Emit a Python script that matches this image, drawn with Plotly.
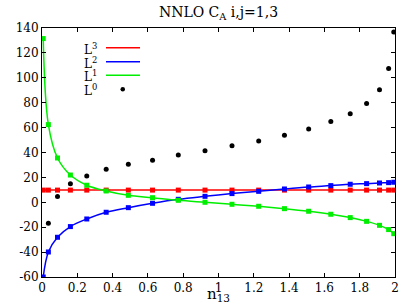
import plotly.graph_objects as go

# x nodes
x_nodes = [0.0069, 0.0361, 0.0878, 0.1609, 0.2537, 0.3636, 0.4892, 0.6263, 0.7723, 0.9235,
           1.0765, 1.2277, 1.3737, 1.5108, 1.6364, 1.7463, 1.8391, 1.9122, 1.9639, 1.9931]

L3 = [9.8] * 20
L2 = [-60.0, -39.9, -28.1, -19.5, -13.4, -8.0, -4.3, -0.8, 2.4, 4.8,
      7.0, 8.8, 10.7, 12.3, 13.4, 14.5, 15.0, 15.5, 15.8, 16.1]
L1 = [131.5, 62.4, 35.6, 21.9, 13.7, 9.1, 5.6, 3.7, 1.6, 0.0,
      -1.6, -3.2, -5.1, -7.2, -9.6, -12.3, -15.3, -18.5, -21.9, -25.2]
x_L0 = x_nodes[1:]
L0 = [-16.9, 4.6, 15.0, 21.1, 26.5, 30.5, 33.7, 38.0, 41.5, 45.5,
      49.3, 53.8, 58.9, 64.8, 71.2, 79.3, 90.5, 107.4, 136.8]

x_ticks = [0, 0.2, 0.4, 0.6, 0.8, 1, 1.2, 1.4, 1.6, 1.8, 2]
x_ticktext = ["0", "0.2", "0.4", "0.6", "0.8", "1", "1.2", "1.4", "1.6", "1.8", "2"]
y_ticks = [-60, -40, -20, 0, 20, 40, 60, 80, 100, 120, 140]
y_ticktext = ["-60", "-40", "-20", "0", "20", "40", "60", "80", "100", "120", "140"]

legend_labels = ["L<sup>3</sup>", "L<sup>2</sup>", "L<sup>1</sup>", "L<sup>0</sup>"]
colors = ["#ff0000", "#0000ff", "#00ee00", "#000000"]

FONT = "DejaVu Serif"

fig = go.Figure()
for ys, c in [(L3, colors[0]), (L2, colors[1]), (L1, colors[2])]:
    fig.add_trace(go.Scatter(x=x_nodes, y=ys, mode="lines+markers",
                             line=dict(color=c, width=1.5, shape="spline"),
                             marker=dict(color=c, size=5, symbol="square"),
                             showlegend=False))
fig.add_trace(go.Scatter(x=x_L0, y=L0, mode="markers",
                         marker=dict(color="black", size=5),
                         showlegend=False))

# manual legend (text on the left, sample on the right)
W, H, L, T = 405, 304, 42, 28
pw, ph = 353, 249
def px(x):
    return (x - L) / pw
def py(y):
    return (T + ph - y) / ph

leg_y = [47.7, 61.7, 75.3, 89.3]
for i, lab in enumerate(legend_labels):
    fig.add_annotation(text=lab, xref="paper", yref="paper", x=px(99), y=py(leg_y[i] + 1),
                       xanchor="right", yanchor="middle", showarrow=False,
                       font=dict(family=FONT, size=12, color="black"))
    if i < 3:
        fig.add_shape(type="line", xref="paper", yref="paper",
                      x0=px(106), x1=px(140), y0=py(leg_y[i]), y1=py(leg_y[i]),
                      line=dict(color=colors[i], width=1.5))
    else:
        fig.add_shape(type="circle", xref="paper", yref="paper",
                      x0=px(120.5), x1=px(125), y0=py(leg_y[i] + 2.2), y1=py(leg_y[i] - 2.2),
                      fillcolor="black", line=dict(color="black", width=0))

axis_common = dict(showline=True, linecolor="black", linewidth=1, mirror="allticks",
                   ticks="inside", ticklen=4, tickcolor="black", showgrid=False,
                   zeroline=False, automargin=False,
                   tickfont=dict(family=FONT, size=12, color="black"))

fig.update_layout(
    width=W, height=H,
    margin=dict(l=L, r=W - L - pw, t=T, b=H - T - ph),
    plot_bgcolor="white", paper_bgcolor="white",
    title=dict(text="NNLO C<sub>A</sub> i,j=1,3", x=(L + pw / 2) / W, xanchor="center",
               y=1 - 12 / H, yanchor="middle", automargin=False,
               font=dict(family=FONT, size=14, color="black")),
    xaxis=dict(range=[0, 2], tickvals=x_ticks, ticktext=x_ticktext,
               title=dict(text="n<sub>13</sub>", font=dict(family=FONT, size=15, color="black")),
               **axis_common),
    yaxis=dict(range=[-60, 140], tickvals=y_ticks, ticktext=y_ticktext, **axis_common),
)

fig.write_html("out.html", config={"displayModeBar": False},
               post_script="document.body.style.margin='0';document.body.style.overflow='hidden';")
